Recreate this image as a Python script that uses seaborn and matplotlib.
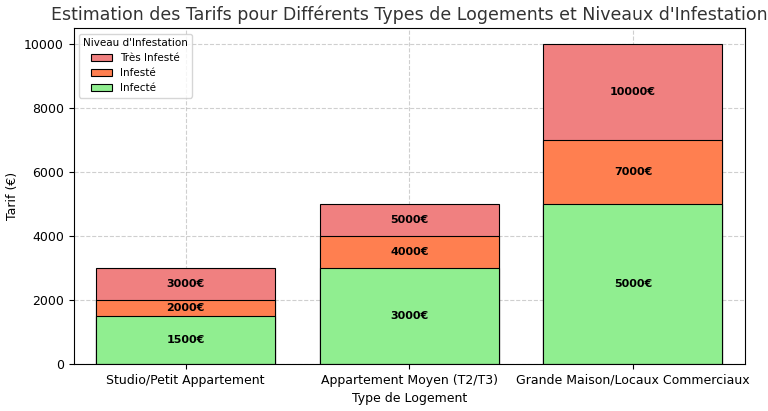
import matplotlib
matplotlib.use("Agg")
import matplotlib.pyplot as plt
import seaborn as sns
import pandas as pd

categories = ["Studio/Petit Appartement", "Appartement Moyen (T2/T3)", "Grande Maison/Locaux Commerciaux"]
infecte = [1500, 3000, 5000]
infeste = [2000, 4000, 7000]
tres_infeste = [3000, 5000, 10000]

fig, ax = plt.subplots(figsize=(7.68, 4.11), dpi=100)
series = [("Très Infesté", tres_infeste, "lightcoral"),
          ("Infesté", infeste, "coral"),
          ("Infecté", infecte, "lightgreen")]
for name, vals, col in series:
    df = pd.DataFrame({"cat": categories, "val": vals})
    sns.barplot(data=df, x="cat", y="val", color=col, edgecolor="black",
                linewidth=0.8, width=0.8, label=name, ax=ax, saturation=1)

for i in range(3):
    prev = 0
    for v in [infecte[i], infeste[i], tres_infeste[i]]:
        ax.text(i, (prev + v) / 2, f"{v}€", ha="center", va="center",
                fontsize=8, fontweight="bold")
        prev = v

ax.set_axisbelow(True)
ax.grid(True, linestyle="--", alpha=0.6)
ax.set_title("Estimation des Tarifs pour Différents Types de Logements et Niveaux d'Infestation",
             fontsize=12.5, color="#333333")
ax.set_xlabel("Type de Logement", fontsize=9)
ax.set_ylabel("Tarif (€)", fontsize=9)
ax.tick_params(labelsize=9)
ax.legend(title="Niveau d'Infestation", loc="upper left", fontsize=7.5, title_fontsize=7.5)
plt.tight_layout(pad=0.4)
fig.savefig("out.png", dpi=100)
